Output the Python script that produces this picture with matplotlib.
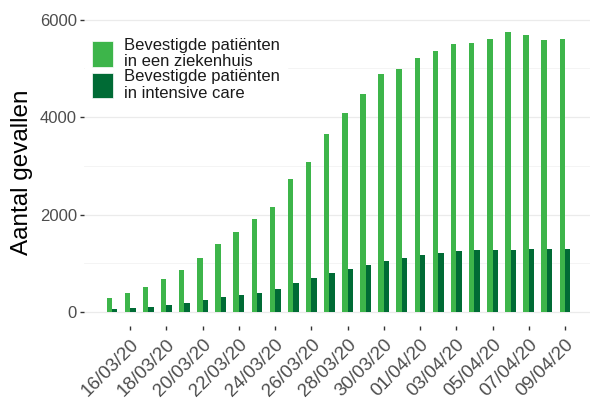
import numpy as np
import pandas as pd
import matplotlib
matplotlib.use("Agg")
import matplotlib.pyplot as plt
import matplotlib.transforms as mtransforms
from matplotlib.patches import Patch
from matplotlib.ticker import MultipleLocator

plt.rcParams['font.family'] = ['Liberation Sans', 'DejaVu Sans']

dates = pd.date_range("2020-03-15", "2020-04-09", freq="D")
ziekenhuis = [280, 390, 510, 680, 860, 1110, 1390, 1640, 1910, 2150, 2730, 3080, 3650,
              4080, 4470, 4880, 4980, 5210, 5360, 5500, 5520, 5600, 5740, 5680, 5580, 5600]
intensive = [60, 90, 110, 140, 180, 250, 300, 340, 400, 470, 600, 700, 790,
             880, 960, 1040, 1100, 1170, 1220, 1250, 1270, 1280, 1270, 1290, 1300, 1290]
labels = ["Bevestigde patiënten\nin een ziekenhuis", "Bevestigde patiënten\nin intensive care"]
kleuren = ["#3DB54A", "#006B35"]

W, H = 590, 401
fig = plt.figure(figsize=(W / 100, H / 100), dpi=100)
ax = fig.add_axes([84 / W, 1 - 326 / H, 1 - 84 / W, (326 - 18) / H])

x = np.arange(len(dates))
bw = 0.3
ax.bar(x - bw / 2, ziekenhuis, width=bw, color=kleuren[0], zorder=2)
ax.bar(x + bw / 2, intensive, width=bw, color=kleuren[1], zorder=2)

ax.set_xlim(-1.545, 26.38)
ax.set_ylim(-287, 6031)

ax.yaxis.set_major_locator(MultipleLocator(2000))
ax.yaxis.set_minor_locator(MultipleLocator(1000))
ax.grid(axis='y', which='major', color='#EBEBEB', linewidth=0.9, zorder=0)
ax.grid(axis='y', which='minor', color='#F3F3F3', linewidth=0.6, zorder=0)
ax.set_axisbelow(True)

tick_idx = x[1::2]
ax.set_xticks(tick_idx)
ax.set_xticklabels([d.strftime("%d/%m/%y") for d in dates[1::2]], rotation=45,
                   ha='right', va='top', rotation_mode='anchor', fontsize=13.5, color='#4D4D4D')
shift = mtransforms.ScaledTranslation(9 / 100, 0, fig.dpi_scale_trans)
for lab in ax.get_xticklabels():
    lab.set_transform(lab.get_transform() + shift)
ax.tick_params(axis='x', length=3, width=1, color='#333333', pad=4)
ax.tick_params(axis='y', which='major', length=3, width=1, color='#333333', labelsize=12,
               labelcolor='#4D4D4D', pad=2)
ax.tick_params(axis='y', which='minor', length=0)
for s in ax.spines.values():
    s.set_visible(False)

ax.set_ylabel("Aantal gevallen", fontsize=17.5, color='black', labelpad=5)

handles = [Patch(facecolor=c, edgecolor='white', linewidth=0.5) for c in kleuren]
leg = ax.legend(handles, labels, loc='upper left', bbox_to_anchor=(85 / W, 1 - 31 / H),
                bbox_transform=fig.transFigure, fontsize=12, frameon=True,
                facecolor='white', edgecolor='white', framealpha=1, fancybox=False,
                borderpad=0.4, borderaxespad=0, handlelength=1.26, handleheight=1.95,
                handletextpad=0.7, labelspacing=0.0)
for t in leg.get_texts():
    t.set_linespacing(1.12)
    t.set_color('#1A1A1A')

fig.savefig("out.png", dpi=100, facecolor='white')
